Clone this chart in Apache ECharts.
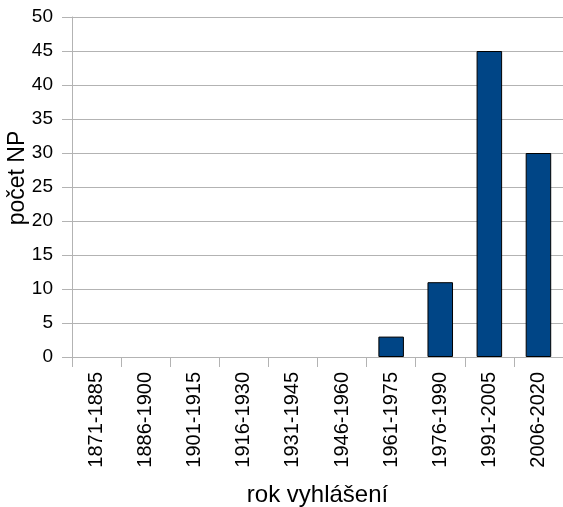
<!DOCTYPE html>
<html>
<head>
<meta charset="utf-8">
<script src="https://cdn.jsdelivr.net/npm/echarts@6/dist/echarts.min.js"></script>
<style>html,body{margin:0;padding:0;background:#fff}#c{width:563px;height:507px}</style>
</head>
<body>
<div id="c"></div>
<script>
const categories = ['1871-1885','1886-1900','1901-1915','1916-1930','1931-1945','1946-1960','1961-1975','1976-1990','1991-2005','2006-2020'];
const values = [0,0,0,0,0,0,3,11,45,30];
const yTicks = {min: 0, max: 50, interval: 5};
const xName = 'rok vyhlášení';
const yName = 'počet NP';

const chart = echarts.init(document.getElementById('c'), null, {renderer: 'canvas'});
const font = 'Liberation Sans';
chart.setOption({
  animation: false,
  grid: {left: 72, right: 0, top: 17, bottom: 150, containLabel: false, outerBoundsMode: 'none'},
  xAxis: {
    type: 'category', data: categories, boundaryGap: true,
    name: xName, nameLocation: 'middle', nameGap: 126, nameMoveOverlap: false,
    nameTextStyle: {fontFamily: font, fontSize: 24, color: '#000'},
    axisLine: {show: true, lineStyle: {color: '#b3b3b3', width: 1}},
    axisTick: {show: true, length: 10, alignWithLabel: false, lineStyle: {color: '#b3b3b3'}},
    axisLabel: {rotate: 90, margin: 15, fontFamily: font, fontSize: 20, color: '#000', interval: 0},
    splitLine: {show: false}
  },
  yAxis: {
    type: 'value', min: yTicks.min, max: yTicks.max, interval: yTicks.interval,
    name: yName, nameLocation: 'middle', nameGap: 43, nameMoveOverlap: false,
    nameTextStyle: {fontFamily: font, fontSize: 23, color: '#000', padding: [0, 0, 0, 18]},
    axisLine: {show: true, lineStyle: {color: '#b3b3b3', width: 1}},
    axisTick: {show: true, length: 10, lineStyle: {color: '#b3b3b3'}},
    axisLabel: {margin: 19, fontFamily: font, fontSize: 19, color: '#000'},
    splitLine: {show: true, lineStyle: {color: '#b3b3b3', width: 1}}
  },
  series: [{
    type: 'bar', barWidth: '52%',
    data: values.map(v => ({value: v, itemStyle: {borderWidth: v === 0 ? 0 : 1}})),
    itemStyle: {color: '#004586', borderColor: '#000', borderWidth: 1}
  }]
});
</script>
</body>
</html>
